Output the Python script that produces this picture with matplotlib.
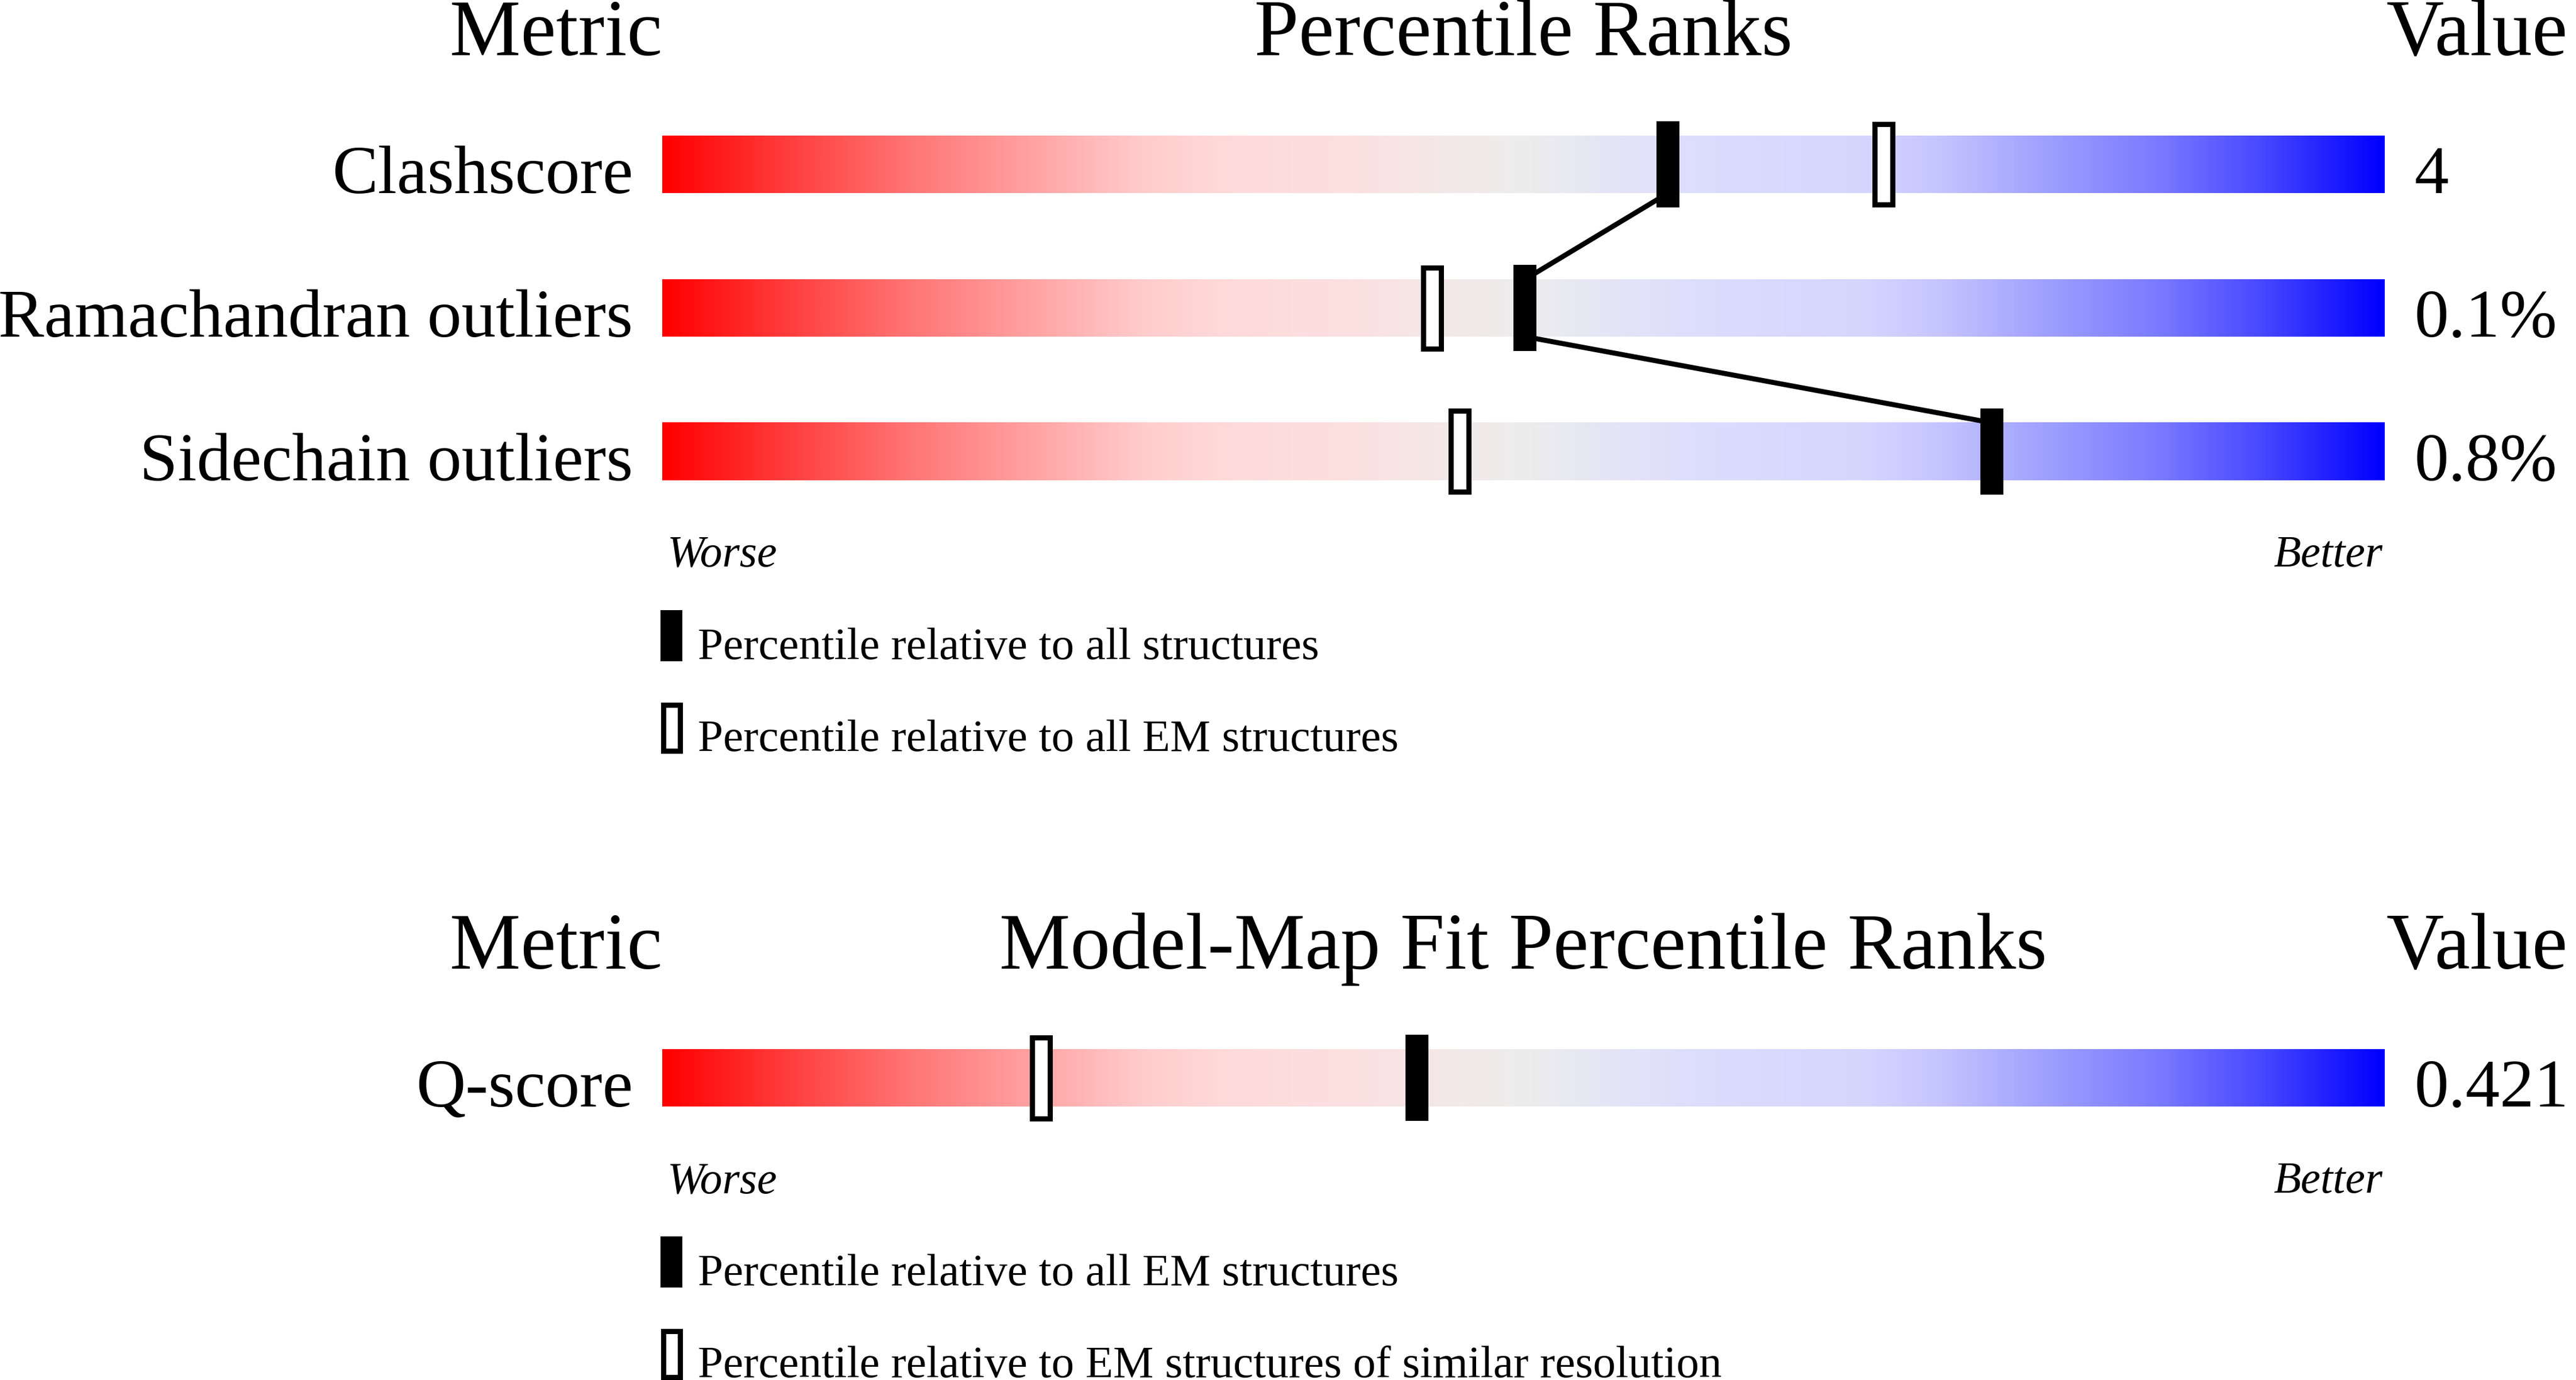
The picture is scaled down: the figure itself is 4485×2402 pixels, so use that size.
import numpy as np
import matplotlib
matplotlib.use("Agg")
import matplotlib.pyplot as plt
from matplotlib.colors import LinearSegmentedColormap
from matplotlib.patches import Rectangle

# ---------------------------------------------------------------
# data
geo_metrics = ["Clashscore", "Ramachandran outliers", "Sidechain outliers"]
geo_values = ["4", "0.1%", "0.8%"]
geo_pct_all = [58.4, 50.1, 77.2]      # filled marker
geo_pct_em = [70.9, 44.7, 46.3]       # open marker
geo_legend = ["Percentile relative to all structures",
              "Percentile relative to all EM structures"]

fit_metrics = ["Q-score"]
fit_values = ["0.421"]
fit_pct_em = [43.8]                   # filled marker
fit_pct_res = [22.0]                  # open marker
fit_legend = ["Percentile relative to all EM structures",
              "Percentile relative to EM structures of similar resolution"]

# colour ramp of the slider (position, rgb)
ramp_pos = [0.0, 0.07, 0.14, 0.21, 0.28, 0.33, 0.40, 0.46, 0.50, 0.55,
            0.60, 0.70, 0.74, 0.80, 0.87, 0.93, 1.0]
ramp_rgb = [(255, 0, 0), (255, 60, 60), (255, 115, 115), (255, 160, 160),
            (255, 205, 205), (255, 218, 218), (252, 224, 224), (243, 233, 233),
            (237, 237, 237), (229, 229, 246), (221, 221, 253), (213, 213, 255),
            (198, 198, 255), (162, 162, 255), (122, 122, 255), (72, 72, 255),
            (0, 0, 255)]

# ---------------------------------------------------------------
W, H = 4485, 2402
DPI = 100
BAR_L, BAR_R = 1153, 4152          # slider extent in pixels
ROW = 250                          # pixels per row
plt.rcParams["font.family"] = ["Liberation Serif", "DejaVu Serif"]

cmap = LinearSegmentedColormap.from_list(
    "slider", [(p, tuple(c / 255 for c in rgb)) for p, rgb in zip(ramp_pos, ramp_rgb)], N=512)
grad = np.linspace(0, 1, 512)[None, :]

fig = plt.figure(figsize=(W / DPI, H / DPI), dpi=DPI)
fig.patch.set_facecolor("white")

# overlay in pixel units for the legends
lay = fig.add_axes([0, 0, 1, 1])
lay.set_xlim(0, W)
lay.set_ylim(H, 0)
lay.axis("off")

BAR_H = 0.4      # in row units
MK_H = 0.6
MK_W = 40 / (BAR_R - BAR_L) * 100
LW_PX = 9
HEAD_FS = 100
LABEL_FS = 86
SMALL_FS = 57


def panel(first_center, metrics, values, pct_fill, pct_open, title, legend):
    n = len(metrics)
    top = first_center - ROW / 2
    ax = fig.add_axes([BAR_L / W, 1 - (top + n * ROW) / H,
                       (BAR_R - BAR_L) / W, n * ROW / H])
    for i in range(n):
        ax.imshow(grad, cmap=cmap, aspect="auto", interpolation="bilinear",
                  extent=(0, 100, i + BAR_H / 2, i - BAR_H / 2), zorder=1)
    # line linking the filled markers
    for i in range(n - 1):
        ax.plot([pct_fill[i], pct_fill[i + 1]], [i + BAR_H / 2, i + 1 - BAR_H / 2],
                color="black", lw=6.3, solid_capstyle="butt", zorder=2)
    du = LW_PX / (BAR_R - BAR_L) * 100
    dv = LW_PX / ROW
    for i in range(n):
        ax.add_patch(Rectangle((pct_fill[i] - MK_W / 2, i - MK_H / 2), MK_W, MK_H,
                               facecolor="black", edgecolor="none", zorder=3))
        ax.add_patch(Rectangle((pct_open[i] - (MK_W - du) / 2, i - (MK_H - dv) / 2),
                               MK_W - du, MK_H - dv, facecolor="white",
                               edgecolor="black", lw=LW_PX * 72 / DPI, zorder=3))
        ax.annotate(metrics[i], xy=(0, i), xytext=(-51, -50), textcoords="offset pixels",
                    ha="right", va="baseline", fontsize=LABEL_FS)
        ax.annotate(values[i], xy=(100, i), xytext=(52, -50), textcoords="offset pixels",
                    ha="left", va="baseline", fontsize=LABEL_FS)
    ax.set_xlim(0, 100)
    ax.set_ylim(n - 0.5, -0.5)
    ax.axis("off")

    # headers
    ax.annotate("Metric", xy=(0, 0), xytext=(0, 190), textcoords="offset pixels",
                ha="right", va="baseline", fontsize=HEAD_FS)
    ax.annotate(title, xy=(50, 0), xytext=(0, 190), textcoords="offset pixels",
                ha="center", va="baseline", fontsize=HEAD_FS)
    ax.annotate("Value", xy=(100, 0), xytext=(3, 190), textcoords="offset pixels",
                ha="left", va="baseline", fontsize=HEAD_FS)
    ax.annotate("Worse", xy=(0, n - 1), xytext=(9, -200), textcoords="offset pixels",
                ha="left", va="baseline", fontsize=SMALL_FS - 1, style="italic")
    ax.annotate("Better", xy=(100, n - 1), xytext=(-4, -200), textcoords="offset pixels",
                ha="right", va="baseline", fontsize=SMALL_FS - 1, style="italic")

    # legend
    last = first_center + (n - 1) * ROW
    for k, txt in enumerate(legend):
        y0 = last + 276 + 160 * k
        if k == 0:
            lay.add_patch(Rectangle((1150, y0), 38, 89, facecolor="black",
                                    edgecolor="none"))
        else:
            lay.add_patch(Rectangle((1150 + LW_PX / 2, y0 + LW_PX / 2), 38 - LW_PX,
                                    89 - LW_PX, facecolor="white", edgecolor="black",
                                    lw=LW_PX * 72 / DPI))
        lay.text(1215, y0 + 85, txt, ha="left", va="baseline", fontsize=SMALL_FS)


panel(286, geo_metrics, geo_values, geo_pct_all, geo_pct_em,
      "Percentile Ranks", geo_legend)
panel(1876, fit_metrics, fit_values, fit_pct_em, fit_pct_res,
      "Model-Map Fit Percentile Ranks", fit_legend)

fig.savefig("out.png", dpi=DPI, facecolor="white")
